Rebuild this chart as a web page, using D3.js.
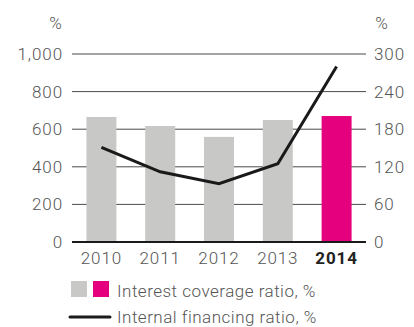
<!DOCTYPE html>
<html>
<head>
<meta charset="utf-8">
<script src="https://cdn.jsdelivr.net/npm/d3@7"></script>
<style>
  body { margin: 0; background: #fff; }
  svg { display: block; font-family: Roboto, "DejaVu Sans", sans-serif; font-weight: 300; }
  svg text { letter-spacing: 0.9px; }
  svg text.legend { letter-spacing: 0.5px; }
</style>
</head>
<body>
<div id="chart"></div>
<script>
// chart values
const years = ['2010', '2011', '2012', '2013', '2014'];
const interestCoverage = [665, 617, 559, 649, 670];
const internalFinancing = [151, 112, 93, 125, 280];
const leftTicks = [0, 200, 400, 600, 800, 1000];
const rightTicks = [0, 60, 120, 180, 240, 300];
const legendLabels = ['Interest coverage ratio, %', 'Internal financing ratio, %'];

const width = 414, height = 327;
const plot = { left: 72, right: 366, top: 54, bottom: 242 };
const fontSize = '17px';

const svg = d3.select('#chart').append('svg')
    .attr('width', width)
    .attr('height', height);

const x = d3.scaleBand()
    .domain(years)
    .range([plot.left, plot.right])
    .paddingInner(0.49)
    .paddingOuter(0.245);

const yLeft = d3.scaleLinear().domain([0, 1000]).range([plot.bottom, plot.top]);
const yRight = d3.scaleLinear().domain([0, 300]).range([plot.bottom, plot.top]);

// gridlines
svg.append('g')
    .selectAll('line')
    .data(leftTicks.filter((d) => d > 0))
    .join('line')
    .attr('x1', plot.left)
    .attr('x2', plot.right)
    .attr('y1', (d) => yLeft(d))
    .attr('y2', (d) => yLeft(d))
    .attr('stroke', '#4a4a4a')
    .attr('stroke-width', 1);

// left axis labels
svg.append('g')
    .attr('transform', `translate(${plot.left}, 0)`)
    .call(d3.axisLeft(yLeft).tickValues(leftTicks).tickSize(0).tickPadding(9)
        .tickFormat(d3.format(',')))
    .call((g) => g.select('.domain').remove())
    .selectAll('text')
    .attr('fill', '#555')
    .style('font-size', fontSize)
    .style('font-family', 'Roboto, "DejaVu Sans", sans-serif')
    .style('font-weight', 300);

// right axis labels
svg.append('g')
    .attr('transform', `translate(${plot.right}, 0)`)
    .call(d3.axisRight(yRight).tickValues(rightTicks).tickSize(0).tickPadding(8))
    .call((g) => g.select('.domain').remove())
    .selectAll('text')
    .attr('fill', '#555')
    .style('font-size', fontSize)
    .style('font-family', 'Roboto, "DejaVu Sans", sans-serif')
    .style('font-weight', 300);

// unit labels
svg.append('text').attr('x', 56).attr('y', 29).attr('text-anchor', 'middle')
    .attr('fill', '#555').style('font-size', fontSize).text('%');
svg.append('text').attr('x', 382).attr('y', 29).attr('text-anchor', 'middle')
    .attr('fill', '#555').style('font-size', fontSize).text('%');

// bars
svg.append('g')
    .selectAll('rect')
    .data(years)
    .join('rect')
    .attr('x', (d) => x(d))
    .attr('y', (d, i) => yLeft(interestCoverage[i]))
    .attr('width', x.bandwidth())
    .attr('height', (d, i) => plot.bottom - yLeft(interestCoverage[i]))
    .attr('fill', (d) => (d === '2014' ? '#e5007e' : '#c8c8c6'));

// zero line
svg.append('line')
    .attr('x1', plot.left).attr('x2', plot.right)
    .attr('y1', plot.bottom).attr('y2', plot.bottom)
    .attr('stroke', '#1a1a1a').attr('stroke-width', 2);

// line series
const line = d3.line()
    .x((d, i) => x(years[i]) + x.bandwidth() / 2)
    .y((d) => yRight(d));

svg.append('path')
    .datum(internalFinancing)
    .attr('d', line)
    .attr('fill', 'none')
    .attr('stroke', '#1a1a1a')
    .attr('stroke-width', 3);

// x labels
svg.append('g')
    .selectAll('text')
    .data(years)
    .join('text')
    .attr('x', (d) => x(d) + x.bandwidth() / 2)
    .attr('y', 263.5)
    .attr('text-anchor', 'middle')
    .attr('fill', (d) => (d === '2014' ? '#222' : '#555'))
    .style('font-size', fontSize)
    .style('font-weight', (d) => (d === '2014' ? 700 : 300))
    .text((d) => d);

// legend
svg.append('rect').attr('x', 71).attr('y', 281).attr('width', 16).attr('height', 16).attr('fill', '#c8c8c6');
svg.append('rect').attr('x', 93).attr('y', 281).attr('width', 16).attr('height', 16).attr('fill', '#e5007e');
svg.append('line').attr('x1', 70).attr('x2', 110).attr('y1', 317).attr('y2', 317)
    .attr('stroke', '#1a1a1a').attr('stroke-width', 3).attr('stroke-linecap', 'round');

svg.append('g')
    .selectAll('text')
    .data(legendLabels)
    .join('text')
    .attr('class', 'legend')
    .attr('x', 117)
    .attr('y', (d, i) => 296.5 + i * 26)
    .attr('fill', '#555')
    .style('font-size', fontSize)
    .text((d) => d);
</script>
</body>
</html>
